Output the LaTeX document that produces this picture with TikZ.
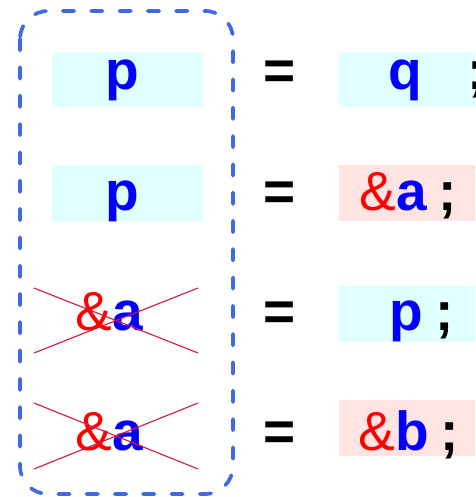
\documentclass[tikz,border=0pt]{standalone}
\usepackage{fontspec}
\setmainfont{Liberation Sans}
\definecolor{boxblue}{RGB}{65,105,225}
\definecolor{cyanbg}{RGB}{224,255,255}
\definecolor{pinkbg}{RGB}{255,228,225}
\definecolor{strikered}{RGB}{220,20,60}
\definecolor{txtblue}{RGB}{0,0,255}
\definecolor{txtred}{RGB}{255,0,0}
\newcommand{\redamp}{{\mdseries\color{txtred}\&}}
\begin{document}
\begin{tikzpicture}[x=1pt,y=-1pt,
  txt/.style={inner sep=0pt, anchor=base, font=\fontsize{55}{60}\selectfont\bfseries},
  cyanbox/.style={fill=cyanbg, draw=none, inner sep=0pt},
  pinkbox/.style={fill=pinkbg, draw=none, inner sep=0pt},
  dashbox/.style={draw=boxblue, line width=3.7pt, line cap=round,
    dash pattern=on 11.5pt off 16.8pt, rounded corners=28pt},
  strikeline/.style={draw=strikered, line width=1.1pt}]
\useasboundingbox (0,0) rectangle (475,497);
\clip (0,0) rectangle (475,497);
% background boxes
\node[cyanbox, minimum width=151.5pt, minimum height=55.6pt] (lb1) at (127.5,79.5) {};
\node[cyanbox, minimum width=151.5pt, minimum height=55.6pt] (lb2) at (127.5,192.9) {};
\node[cyanbox, minimum width=140pt, minimum height=55.6pt] (rb1) at (409,79.5) {};
\node[pinkbox, minimum width=140pt, minimum height=55.6pt] (rb2) at (409,192.9) {};
\node[cyanbox, minimum width=140pt, minimum height=55.6pt] (rb3) at (409,313.9) {};
\node[pinkbox, minimum width=140pt, minimum height=55.6pt] (rb4) at (409,427.9) {};
% dashed frame
\draw[dashbox] (20,11) rectangle (233,494);
% left texts
\node[txt] (l1) at (122.5,90) {\color{txtblue}p};
\node[txt] (l2) at (122.5,210) {\color{txtblue}p};
\node[txt] (l3) at (109.5,330) {\redamp{\color{txtblue}a}};
\node[txt] (l4) at (109.5,450) {\redamp{\color{txtblue}a}};
% strike-through crosses
\coordinate (c3a) at (34,288); \coordinate (c3b) at (198,353);
\coordinate (c3c) at (34,353); \coordinate (c3d) at (198,288);
\coordinate (c4a) at (34,403); \coordinate (c4b) at (198,469);
\coordinate (c4c) at (34,469); \coordinate (c4d) at (198,403);
\draw[strikeline] (c3a) -- (c3b);
\draw[strikeline] (c3c) -- (c3d);
\draw[strikeline] (c4a) -- (c4b);
\draw[strikeline] (c4c) -- (c4d);
% equals signs
\node[txt] (e1) at (280,90) {=};
\node[txt] (e2) at (280,210) {=};
\node[txt] (e3) at (280,330) {=};
\node[txt] (e4) at (280,450) {=};
% right texts
\node[txt] (r1) at (405.5,90) {\color{txtblue}q};
\node[txt] (s1) at (477,90) {;};
\node[txt] (r2) at (393,210) {\redamp{\color{txtblue}a}};
\node[txt] (s2) at (447.5,210) {;};
\node[txt] (r3) at (406,330) {\color{txtblue}p};
\node[txt] (s3) at (445,330) {;};
\node[txt] (r4) at (394,450) {\redamp{\color{txtblue}b}};
\node[txt] (s4) at (450,450) {;};
\end{tikzpicture}
\end{document}
